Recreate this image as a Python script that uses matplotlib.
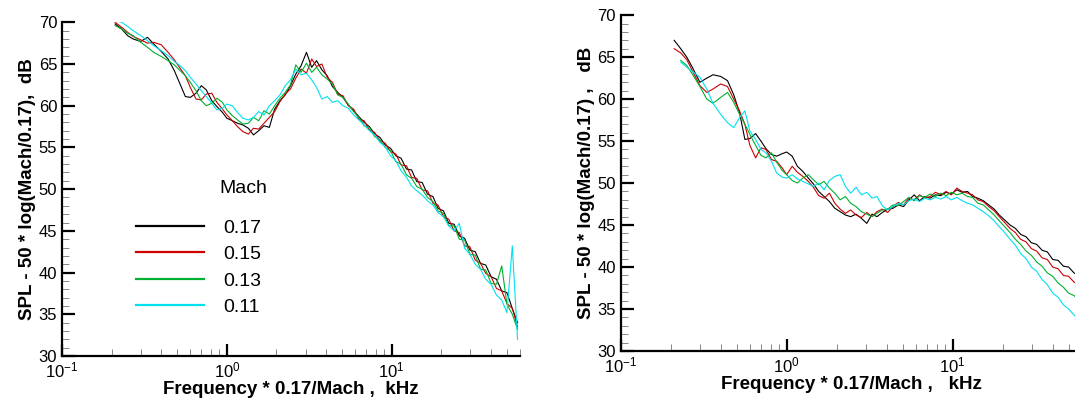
import matplotlib
matplotlib.use("Agg")
import numpy as np
import matplotlib.pyplot as plt
from matplotlib.lines import Line2D
from matplotlib.ticker import LogLocator, MultipleLocator, NullFormatter

plt.rcParams["font.family"] = ["Liberation Sans", "DejaVu Sans"]

# scaled frequency, kHz (same grid for both panels)
freq = [0.21, 0.23, 0.25, 0.27, 0.30, 0.33, 0.36, 0.40, 0.44, 0.48,
        0.52, 0.56, 0.60, 0.65, 0.70, 0.75, 0.81, 0.87, 0.94, 1.0,
        1.08, 1.16, 1.25, 1.35, 1.45, 1.56, 1.68, 1.81, 1.95, 2.1,
        2.26, 2.43, 2.62, 2.82, 3.04, 3.27, 3.5, 3.77, 4.06, 4.37,
        4.7, 5.06, 5.45, 5.87, 6.32, 6.8, 7.32, 7.88, 8.48, 9.13,
        9.83, 10.6, 11.4, 12.3, 13.2, 14.2, 15.3, 16.5, 17.8, 19.1,
        20.6, 22.2, 23.9, 25.7, 27.7, 29.8, 32.1, 34.6, 37.2, 40.1,
        43.2, 46.5, 50.0, 53.9, 58.0]

mach_labels = ["0.17", "0.15", "0.13", "0.11"]
colors = ["#000000", "#cc0000", "#00b030", "#00e0f0"]

# left panel
left_017 = [69.8, 69.2, 68.4, 68.0, 67.7, 68.2, 67.4, 66.5, 65.6, 64.2,
            62.6, 61.1, 61.0, 61.5, 62.4, 61.9, 60.6, 59.9, 59.2, 58.5,
            58.2, 57.9, 57.7, 57.3, 56.5, 57.0, 57.6, 57.4, 59.6, 60.6,
            61.3, 62.4, 63.8, 64.8, 66.4, 64.6, 65.4, 64.3, 63.6, 62.3,
            61.6, 61.0, 60.1, 59.4, 58.7, 58.0, 57.5, 56.6, 56.2, 55.3,
            54.9, 54.0, 53.7, 52.4, 52.3, 50.9, 50.8, 49.4, 49.1, 47.7,
            47.4, 45.9, 45.8, 44.4, 44.1, 42.7, 42.5, 41.1, 40.9, 39.5,
            39.2, 37.8, 37.6, 35.7, 34.0]
left_015 = [70.0, 69.4, 68.8, 68.3, 67.9, 67.5, 67.6, 67.3, 66.4, 65.5,
            64.5, 63.6, 62.2, 60.8, 60.7, 61.4, 61.5, 60.4, 59.6, 58.9,
            58.2, 57.5, 56.9, 56.6, 57.3, 57.2, 57.9, 58.6, 59.3, 60.5,
            61.4, 62.0, 63.3, 64.4, 63.9, 65.6, 64.7, 65.0, 63.4, 62.8,
            61.4, 61.2, 60.0, 59.6, 58.4, 58.2, 57.1, 56.8, 55.8, 55.5,
            54.5, 54.2, 52.9, 52.8, 51.4, 51.3, 49.9, 49.8, 48.3, 48.1,
            46.7, 46.4, 45.0, 44.8, 43.2, 43.1, 41.5, 41.1, 39.9, 39.5,
            38.1, 37.8, 36.3, 35.7, 33.5]
left_013 = [69.6, 69.2, 68.7, 68.4, 67.6, 67.0, 66.4, 65.9, 65.4, 64.9,
            64.2, 63.6, 62.8, 61.8, 60.6, 60.0, 60.3, 60.9, 60.4, 59.5,
            58.8, 58.3, 57.8, 57.9, 58.6, 58.2, 59.4, 59.0, 60.0, 60.9,
            61.6, 62.5, 64.9, 64.0, 65.1, 64.0, 64.6, 63.7, 63.2, 62.6,
            61.3, 61.0, 60.2, 59.3, 58.6, 57.6, 57.4, 56.3, 55.9, 55.0,
            54.6, 53.3, 53.0, 51.7, 51.3, 50.3, 50.0, 49.0, 48.5, 47.4,
            47.1, 45.6, 45.6, 44.0, 43.9, 42.2, 42.1, 40.4, 40.3, 38.7,
            38.6, 40.8, 36.2, 35.0, 33.2]
left_011 = [70.2, 70.0, 69.5, 69.0, 68.4, 67.8, 67.2, 66.6, 66.0, 65.3,
            64.8, 64.2, 63.4, 62.6, 61.8, 61.1, 60.3, 59.5, 59.7, 60.2,
            60.0, 59.2, 58.5, 58.3, 58.6, 59.3, 58.9, 60.0, 60.6, 61.3,
            62.4, 63.1, 64.4, 63.7, 63.9, 63.1, 62.2, 60.8, 61.1, 60.4,
            60.6, 60.0, 59.7, 58.9, 58.3, 57.7, 57.0, 56.5, 55.6, 55.1,
            54.0, 53.4, 52.2, 51.4, 50.4, 49.8, 49.3, 48.6, 48.1, 47.2,
            46.7, 45.6, 45.0, 45.9, 42.9, 42.2, 41.0, 40.4, 39.2, 38.6,
            37.3, 36.7, 35.2, 43.2, 32.0]

# right panel
right_017 = [67.0, 66.0, 65.0, 63.8, 62.0, 62.5, 62.9, 62.7, 62.2, 60.5,
             58.4, 55.2, 55.3, 55.9, 55.0, 54.1, 53.4, 53.2, 53.5, 53.7,
             53.2, 52.0, 51.4, 50.6, 49.9, 49.0, 48.4, 47.8, 47.0, 46.6,
             46.2, 46.0, 46.3, 45.8, 45.2, 46.3, 46.0, 46.5, 46.9, 47.0,
             47.4, 47.2, 48.0, 48.6, 47.9, 48.4, 48.2, 48.6, 48.5, 48.9,
             48.7, 49.2, 48.9, 49.0, 48.4, 48.2, 47.9, 47.4, 46.9, 46.2,
             45.6, 45.0, 44.6, 43.9, 43.6, 42.9, 42.7, 42.0, 41.8, 40.9,
             40.8, 40.1, 40.0, 39.3, 39.0]
right_015 = [66.0, 65.5, 64.7, 63.4, 61.6, 60.8, 61.2, 61.8, 61.5, 60.0,
             58.6, 57.0, 54.5, 53.0, 54.2, 54.0, 52.8, 52.6, 51.8, 51.0,
             52.0, 51.3, 50.8, 50.2, 49.5, 48.5, 48.2, 48.8, 47.6, 46.9,
             46.4, 46.8, 46.2, 45.9, 46.5, 46.0, 46.6, 46.9, 46.5, 47.2,
             47.7, 47.4, 48.2, 48.0, 48.6, 48.2, 48.4, 48.9, 48.6, 49.0,
             48.6, 49.4, 49.0, 48.8, 48.6, 48.0, 47.8, 47.2, 46.7, 46.0,
             45.3, 44.6, 44.1, 43.3, 43.0, 42.2, 41.9, 41.1, 40.9, 40.0,
             39.8, 39.0, 38.9, 38.2, 37.9]
right_013 = [np.nan, 64.6, 64.0, 63.0, 61.5, 60.0, 59.5, 60.2, 60.8, 59.6,
             58.2, 57.0, 55.8, 54.5, 53.3, 53.0, 53.6, 52.5, 51.5, 51.0,
             50.3, 50.0, 50.6, 51.0, 50.4, 49.8, 50.2, 49.4, 48.8, 48.0,
             48.4, 47.6, 47.2, 46.6, 46.3, 46.0, 46.4, 46.8, 46.9, 47.4,
             47.3, 47.8, 48.3, 47.9, 48.5, 48.3, 48.7, 48.4, 48.8, 48.5,
             48.9, 48.6, 48.8, 48.4, 48.3, 47.6, 47.4, 46.8, 46.2, 45.5,
             44.8, 44.1, 43.3, 42.7, 41.9, 41.4, 40.6, 40.1, 39.3, 38.9,
             38.1, 37.6, 36.9, 36.6, 36.0]
right_011 = [np.nan, 64.4, 63.8, 63.3, 62.6, 61.2, 59.5, 58.2, 57.2, 56.6,
             57.8, 58.6, 56.2, 55.2, 54.0, 53.6, 52.6, 51.2, 50.7, 50.6,
             51.0, 50.5, 50.2, 49.9, 49.6, 50.0, 49.2, 50.3, 50.8, 51.0,
             49.6, 48.8, 49.5, 48.6, 48.9, 48.2, 48.4, 47.3, 46.8, 47.2,
             47.6, 47.4, 47.9, 48.1, 47.8, 48.2, 48.0, 48.3, 48.1, 48.4,
             48.0, 48.3, 47.9, 47.6, 47.4, 47.0, 46.6, 46.1, 45.5, 44.8,
             44.1, 43.3, 42.6, 41.6, 41.0, 40.0, 39.5, 38.5, 37.9, 36.9,
             36.4, 35.5, 35.0, 34.3, 33.6]

left_series = [left_017, left_015, left_013, left_011]
right_series = [right_017, right_015, right_013, right_011]

fig = plt.figure(figsize=(10.75, 3.98), dpi=100)
ax1 = fig.add_axes([0.0577, 0.1055, 0.426, 0.8385])
ax2 = fig.add_axes([0.5774, 0.118, 0.4289, 0.844])


def style_axis(ax, ylabel, xlabel):
    ax.set_xscale("log")
    ax.set_xlim(0.1, 60)
    ax.set_ylim(30, 70)
    ax.spines["top"].set_visible(False)
    ax.spines["right"].set_visible(False)
    ax.spines["left"].set_linewidth(1.6)
    ax.spines["bottom"].set_linewidth(1.6)
    ax.yaxis.set_major_locator(MultipleLocator(5))
    ax.yaxis.set_minor_locator(MultipleLocator(1))
    ax.xaxis.set_major_locator(LogLocator(base=10))
    ax.xaxis.set_minor_locator(LogLocator(base=10, subs=np.arange(2, 10)))
    ax.xaxis.set_minor_formatter(NullFormatter())
    ax.tick_params(which="major", direction="in", length=9, width=1.6,
                   labelsize=12, color="black")
    ax.tick_params(which="minor", direction="in", length=5, width=0.7,
                   color="#888888")
    ax.set_ylabel(ylabel, fontsize=13.5, fontweight="bold", labelpad=2)
    ax.set_xlabel(xlabel, fontsize=13.5, fontweight="bold", labelpad=0)


for ax, series in [(ax1, left_series), (ax2, right_series)]:
    for vals, c in zip(series, colors):
        ax.plot(freq, vals, color=c, lw=0.8)

style_axis(ax1, "SPL - 50 * log(Mach/0.17),  dB",
           "Frequency * 0.17/Mach ,  kHz")
style_axis(ax2, "SPL - 50 * log(Mach/0.17) ,   dB",
           "Frequency * 0.17/Mach ,   kHz")

handles = [Line2D([], [], color=c, lw=1.6) for c in colors]
ax1.legend(handles, mach_labels, loc="upper left",
           bbox_to_anchor=(0.162, 0.41), frameon=False, fontsize=14,
           handlelength=3.5, handletextpad=1.0,
           labelspacing=0.45, borderpad=0, borderaxespad=0)
ax1.text(0.395, 0.503, "Mach", transform=ax1.transAxes, fontsize=14,
         ha="center", va="center")

fig.savefig("out.png", dpi=100)
